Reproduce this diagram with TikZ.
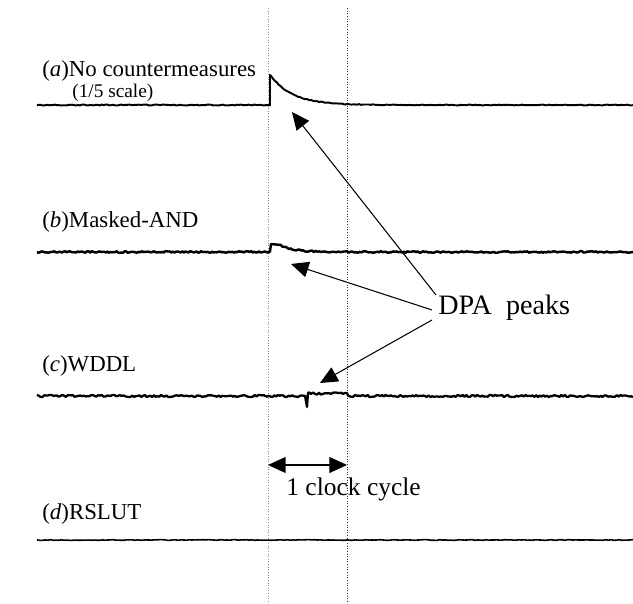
\documentclass[tikz,border=0pt]{standalone}
\usepackage{fontspec}
\setmainfont{Liberation Serif}
\usetikzlibrary{arrows.meta}

\tikzset{
  trace/.style={line width=1.1pt, line join=round},
  marker/.style={densely dotted, line width=0.5pt},
  pointer/.style={-{Triangle[length=10pt,width=9pt]}, line width=0.6pt},
  tracelabel/.style={anchor=west, inner sep=0pt, font=\fontsize{13}{15}\selectfont},
}

\begin{document}
\begin{tikzpicture}[x=0.02cm, y=-0.02cm]
  \useasboundingbox (0,0) rectangle (633,604);
  \pgfmathsetseed{7}

  % clock edges
  \coordinate (e1top) at (268,8);
  \coordinate (e1bot) at (268,604);
  \coordinate (e2top) at (347,8);
  \coordinate (e2bot) at (347,604);
  \draw[marker, black!45] (e1top) -- (e1bot);
  \draw[marker, black!80] (e2top) -- (e2bot);

  % traces
  \draw[trace] plot[domain=37:270, samples=120] (\x, {105+0.5*rand})
    -- (270,75)
    -- plot[domain=271:633, samples=190] (\x, {105-29*exp(-(\x-271)/22)+0.4*rand});
  \draw[trace, line width=1.4pt] plot[domain=37:270, samples=150] (\x, {252+0.8*rand})
    -- (271,244) -- (281,245)
    -- plot[domain=282:633, samples=200] (\x, {252-6*exp(-(\x-281)/15)+0.8*rand});
  \draw[trace, line width=1.3pt] plot[domain=37:305, samples=150] (\x, {396+1.1*rand})
    -- (307,407) -- (308,393)
    -- plot[domain=309:347, samples=20] (\x, {393.5+1.1*rand})
    -- plot[domain=348:633, samples=160] (\x, {396+1.1*rand});
  \draw[trace, line width=0.9pt] plot[domain=37:633, samples=220] (\x, {540+0.35*rand});

  % labels
  \begin{scope}[every node/.style={tracelabel}]
    \node (la) at (42,71)  {(\textit{a})No countermeasures};
    \node[font=\fontsize{11}{12}\selectfont] (sc) at (72,93) {(1/5 scale)};
    \node (lb) at (42,222) {(\textit{b})Masked-AND};
    \node (lc) at (42,366) {(\textit{c})WDDL};
    \node (ld) at (42,514) {(\textit{d})RSLUT};
  \end{scope}

  \node[anchor=west, inner sep=0pt, font=\fontsize{16}{18}\selectfont] (dpa) at (438,308) {DPA\ \ peaks};
  \node[anchor=west, inner sep=0pt, font=\fontsize{14.5}{16}\selectfont] (clk) at (286,489) {1 clock cycle};

  % arrows to the peaks
  \coordinate (pa) at (292,112);
  \coordinate (pb) at (291,264);
  \coordinate (pc) at (320,383);
  \coordinate (ta) at (436,295);
  \coordinate (tb) at (432,310);
  \coordinate (tc) at (432,320);
  \draw[pointer] (ta) -- (pa);
  \draw[pointer] (tb) -- (pb);
  \draw[pointer] (tc) -- (pc);

  % one clock cycle
  \coordinate (c1) at (268,465);
  \coordinate (c2) at (347,465);
  \draw[{Triangle[length=10pt,width=9pt]}-{Triangle[length=10pt,width=9pt]}, line width=0.8pt] (c1) -- (c2);
\end{tikzpicture}
\end{document}
